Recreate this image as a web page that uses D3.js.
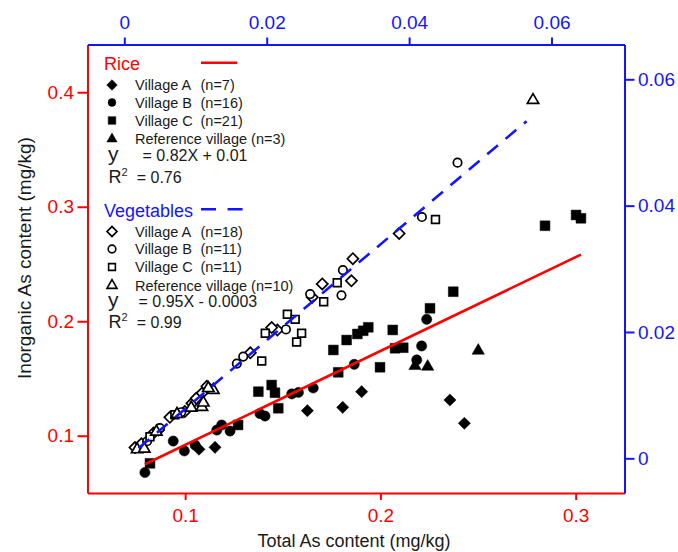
<!DOCTYPE html>
<html>
<head>
<meta charset="utf-8">
<script src="https://cdn.jsdelivr.net/npm/d3@7"></script>
<style>
  body { margin: 0; background: #fff; }
  svg { display: block; font-family: "Liberation Sans", Arial, sans-serif; }
</style>
</head>
<body>
<svg id="chart" width="678" height="552"></svg>
<script>
// RICE: total As (bottom axis) vs inorganic As (left axis), mg/kg
var riceVillageA = [
    [0.1071, 0.0882], [0.1153, 0.0899], [0.1626, 0.1219], [0.1807, 0.1248],
    [0.1904, 0.1385], [0.2356, 0.1312], [0.2430, 0.1109]
];
var riceVillageB = [
    [0.0794, 0.0679], [0.0939, 0.0954], [0.0996, 0.0867], [0.1051, 0.0919],
    [0.1162, 0.1050], [0.1187, 0.1094], [0.1230, 0.1041], [0.1383, 0.1194],
    [0.1409, 0.1172], [0.1546, 0.1365], [0.1580, 0.1378], [0.1656, 0.1417],
    [0.1866, 0.1624], [0.2186, 0.1662], [0.2211, 0.1784], [0.2237, 0.2017]
];
var riceVillageC = [
    [0.0820, 0.0759], [0.1271, 0.1094], [0.1375, 0.1385], [0.1443, 0.1443],
    [0.1460, 0.1376], [0.1477, 0.1240], [0.1759, 0.1749], [0.1784, 0.1554],
    [0.1827, 0.1836], [0.1882, 0.1889], [0.1912, 0.1917], [0.1938, 0.1947],
    [0.1998, 0.1598], [0.2063, 0.1924], [0.2075, 0.1764], [0.2117, 0.1769],
    [0.2254, 0.2113], [0.2373, 0.2258], [0.2843, 0.2834], [0.3002, 0.2928],
    [0.3027, 0.2899]
];
var riceReference = [
    [0.2177, 0.1609], [0.2242, 0.1603], [0.2501, 0.1743]
];

// VEGETABLES: plotted on the top / right axes
var vegVillageA = [
    [0.0386, 0.0356], [0.0321, 0.0316], [0.0319, 0.0281], [0.0278, 0.0276],
    [0.0264, 0.0255], [0.0215, 0.0203], [0.0207, 0.0207], [0.0177, 0.0167],
    [0.0015, 0.0017], [0.0024, 0.0023], [0.0041, 0.0040], [0.0048, 0.0045],
    [0.0064, 0.0065], [0.0085, 0.0074], [0.0095, 0.0087], [0.0109, 0.0103],
    [0.0116, 0.0114], [0.0101, 0.0095]
];
var vegVillageB = [
    [0.0468, 0.0468], [0.0418, 0.0382], [0.0307, 0.0298], [0.0305, 0.0258],
    [0.0261, 0.0260], [0.0227, 0.0204], [0.0167, 0.0161], [0.0158, 0.0150],
    [0.0050, 0.0048], [0.0080, 0.0073], [0.0032, 0.0027]
];
var vegVillageC = [
    [0.0437, 0.0378], [0.0299, 0.0278], [0.0280, 0.0248], [0.0249, 0.0198],
    [0.0229, 0.0228], [0.0240, 0.0220], [0.0242, 0.0184], [0.0198, 0.0198],
    [0.0193, 0.0154], [0.0071, 0.0069], [0.0036, 0.0034]
];
var vegReference = [
    [0.0574, 0.0567], [0.0018, 0.0014], [0.0028, 0.0015], [0.0045, 0.0042],
    [0.0074, 0.0070], [0.0094, 0.0080], [0.0109, 0.0081], [0.0111, 0.0088],
    [0.0125, 0.0108], [0.0118, 0.0111]
];

var riceFitCoef = [0.82, 0.01];
var vegFitCoef = [0.95, -0.0003];
var vegFitRange = [0.002, 0.0565];

var groupNames = [ "Village A", "Village B", "Village C", "Reference village" ];
var riceCounts = [ "(n=7)", "(n=16)", "(n=21)", "(n=3)" ];
var vegCounts = [ "(n=18)", "(n=11)", "(n=11)", "(n=10)" ];
var riceEquation = [ "= 0.82X + 0.01", "= 0.76" ];
var vegEquation = [ "= 0.95X - 0.0003", "= 0.99" ];

var bottomTicks = [ 0.1, 0.2, 0.3 ];
var bottomMinor = [ 0.15, 0.25 ];
var leftTicks = [ 0.1, 0.2, 0.3, 0.4 ];
var leftMinor = [ 0.15, 0.25, 0.35 ];
var topTicks = [ 0, 0.02, 0.04, 0.06 ];
var topMinor = [ 0.01, 0.03, 0.05 ];
var rightTicks = [ 0, 0.02, 0.04, 0.06 ];
var rightMinor = [ 0.01, 0.03, 0.05 ];

var RED = "#ff0000";
var BLUE = "#1414ff";
var INK = "#1a1a1a";

var svg = d3.select( "#chart" );
var plot = { left: 87.5, right: 624.5, top: 44.5, bottom: 493 };

var x = d3.scaleLinear().domain( [ 0.05, 0.325 ] ).range( [ plot.left, plot.right ] );
var y = d3.scaleLinear().domain( [ 0.05, 0.4417 ] ).range( [ plot.bottom, plot.top ] );
var x2 = d3.scaleLinear().domain( [ -0.00517, 0.07025 ] ).range( [ plot.left, plot.right ] );
var y2 = d3.scaleLinear().domain( [ -0.00549, 0.06551 ] ).range( [ plot.bottom, plot.top ] );

// draws one axis (major + minor ticks) in a given colour
function drawAxis( axisFn, scale, major, minor, tickLen, pad, translate, color ) {
    var g = svg.append( "g" ).attr( "transform", translate );
    g.call( axisFn( scale ).tickValues( minor ).tickSize( tickLen * 0.62 ).tickSizeOuter( 0 ).tickFormat( "" ) );
    g.call( axisFn( scale ).tickValues( major ).tickSize( tickLen ).tickSizeOuter( 0 ).tickPadding( pad ).tickFormat( function ( d ) { return d; } ) );
    g.selectAll( "path, line" ).attr( "stroke", color ).attr( "stroke-width", 2 );
    g.selectAll( "text" )
        .attr( "fill", color )
        .style( "font-size", "19px" )
        .style( "font-family", "'Liberation Sans', Arial, sans-serif" );
    return g;
}

drawAxis( d3.axisBottom, x, bottomTicks, bottomMinor, 7, 8.5, "translate(0," + plot.bottom + ")", RED );
drawAxis( d3.axisLeft, y, leftTicks, leftMinor, 10, 3.5, "translate(" + plot.left + ",0)", RED );
drawAxis( d3.axisTop, x2, topTicks, topMinor, 7, 9, "translate(0," + plot.top + ")", BLUE );
drawAxis( d3.axisRight, y2, rightTicks, rightMinor, 10, 3.5, "translate(" + plot.right + ",0)", BLUE );

// axis titles
svg.append( "text" )
    .attr( "x", 354 ).attr( "y", 547 )
    .attr( "text-anchor", "middle" )
    .attr( "fill", INK )
    .style( "font-size", "18px" )
    .text( "Total As content (mg/kg)" );

svg.append( "text" )
    .attr( "transform", "translate(31,258) rotate(-90)" )
    .attr( "text-anchor", "middle" )
    .attr( "fill", INK )
    .style( "font-size", "19px" )
    .text( "Inorganic As content (mg/kg)" );

// symbol paths
var shapes = [ "diamond", "circle", "square", "triangle" ];

function symbolPath( kind, size ) {
    var type = { diamond: d3.symbolSquare, circle: d3.symbolCircle, square: d3.symbolSquare, triangle: d3.symbolTriangle }[ kind ];
    return d3.symbol().type( type ).size( size )();
}

var plotSizes = { diamond: 74, circle: 82, square: 96, triangle: 66 };
var openSizes = { diamond: 62, circle: 56, square: 60, triangle: 56 };

function drawPoints( data, kind, xs, ys, filled, sizes ) {
    svg.append( "g" ).selectAll( "path" )
        .data( data )
        .enter()
        .append( "path" )
        .attr( "d", symbolPath( kind, sizes[ kind ] ) )
        .attr( "transform", function ( d ) {
            var t = "translate(" + xs( d[ 0 ] ) + "," + ys( d[ 1 ] ) + ")";
            return kind === "diamond" ? t + " rotate(45)" : t;
        } )
        .attr( "fill", filled ? "#000" : "#fff" )
        .attr( "stroke", "#000" )
        .attr( "stroke-width", filled ? 0.5 : 1.7 );
}

var riceGroups = [ riceVillageA, riceVillageB, riceVillageC, riceReference ];
var vegGroups = [ vegVillageA, vegVillageB, vegVillageC, vegReference ];

riceGroups.forEach( function ( grp, i ) {
    drawPoints( grp, shapes[ i ], x, y, true, plotSizes );
} );
vegGroups.forEach( function ( grp, i ) {
    drawPoints( grp, shapes[ i ], x2, y2, false, openSizes );
} );

// fit lines
var riceX = d3.extent( [].concat( riceVillageA, riceVillageB, riceVillageC, riceReference ), function ( d ) { return d[ 0 ]; } );
svg.append( "line" )
    .attr( "x1", x( riceX[ 0 ] ) ).attr( "y1", y( riceFitCoef[ 0 ] * riceX[ 0 ] + riceFitCoef[ 1 ] ) )
    .attr( "x2", x( riceX[ 1 ] ) ).attr( "y2", y( riceFitCoef[ 0 ] * riceX[ 1 ] + riceFitCoef[ 1 ] ) )
    .attr( "stroke", RED ).attr( "stroke-width", 2.6 );

svg.append( "line" )
    .attr( "x1", x2( vegFitRange[ 0 ] ) ).attr( "y1", y2( vegFitCoef[ 0 ] * vegFitRange[ 0 ] + vegFitCoef[ 1 ] ) )
    .attr( "x2", x2( vegFitRange[ 1 ] ) ).attr( "y2", y2( vegFitCoef[ 0 ] * vegFitRange[ 1 ] + vegFitCoef[ 1 ] ) )
    .attr( "stroke", BLUE ).attr( "stroke-width", 2.6 )
    .attr( "stroke-dasharray", "14,10" );

// LEGEND BLOCKS
function legendBlock( top, title, color, counts, filled, equation, lineDash ) {
    var g = svg.append( "g" );
    g.append( "text" )
        .attr( "x", 104 ).attr( "y", top + 8 )
        .attr( "fill", color )
        .style( "font-size", "18px" )
        .text( title );

    g.append( "line" )
        .attr( "x1", 201 ).attr( "x2", lineDash ? 243.3 : 237.3 )
        .attr( "y1", top + 0.7 ).attr( "y2", top + 0.7 )
        .attr( "stroke", color ).attr( "stroke-width", 2.6 )
        .attr( "stroke-dasharray", lineDash );

    var legendSizes = filled ? { diamond: 56, circle: 48, square: 58, triangle: 46 }
                             : { diamond: 50, circle: 46, square: 46, triangle: 44 };
    var rowY = [ 23, 40.5, 58.5, 77 ];

    shapes.forEach( function ( kind, i ) {
        var cy = top + rowY[ i ];
        g.append( "path" )
            .attr( "d", symbolPath( kind, legendSizes[ kind ] ) )
            .attr( "transform", "translate(112," + cy + ")" + ( kind === "diamond" ? " rotate(45)" : "" ) )
            .attr( "fill", filled ? "#000" : "#fff" )
            .attr( "stroke", "#000" )
            .attr( "stroke-width", filled ? 0.5 : 1.6 );
        var label = i === 3 ? groupNames[ i ] + " " + counts[ i ] : groupNames[ i ];
        g.append( "text" )
            .attr( "x", 135 ).attr( "y", cy + 5 )
            .attr( "fill", INK )
            .style( "font-size", "14.5px" )
            .text( label );
        if ( i < 3 ) {
            g.append( "text" )
                .attr( "x", 200.5 ).attr( "y", cy + 5 )
                .attr( "fill", INK )
                .style( "font-size", "14.5px" )
                .text( counts[ i ] );
        }
    } );

    g.append( "text" )
        .attr( "x", 108 ).attr( "y", top + equation.yBase )
        .attr( "fill", INK )
        .style( "font-size", "21px" )
        .text( "y" );
    g.append( "text" )
        .attr( "x", equation.eqX ).attr( "y", top + equation.yBase )
        .attr( "fill", INK )
        .style( "font-size", "16px" )
        .text( equation.text[ 0 ] );

    var r = g.append( "text" )
        .attr( "x", 108.5 ).attr( "y", top + equation.rBase )
        .attr( "fill", INK )
        .style( "font-size", "18px" );
    r.append( "tspan" ).text( "R" );
    r.append( "tspan" ).attr( "dy", -7 ).style( "font-size", "11px" ).text( "2" );
    g.append( "text" )
        .attr( "x", 136.7 ).attr( "y", top + equation.rBase )
        .attr( "fill", INK )
        .style( "font-size", "16px" )
        .text( equation.text[ 1 ] );
}

legendBlock( 62, "Rice", RED, riceCounts, true,
    { text: riceEquation, eqX: 142.5, yBase: 99, rBase: 121 }, null );
legendBlock( 208.5, "Vegetables", BLUE, vegCounts, false,
    { text: vegEquation, eqX: 138.5, yBase: 98, rBase: 119 }, "15,11.6" );
</script>
</body>
</html>
